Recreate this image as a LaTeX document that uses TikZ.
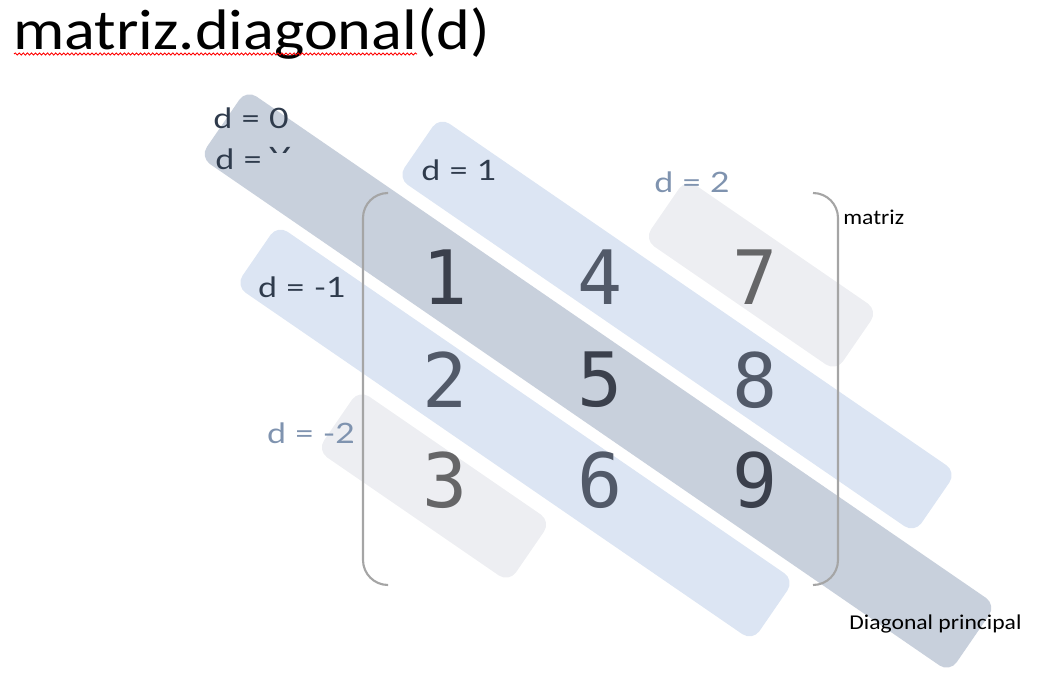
\documentclass[tikz,border=0pt]{standalone}
\usepackage{fontspec}
\setmainfont{Carlito}
\newfontfamily\lblfont[FakeStretch=1.2]{Lato}
\newfontfamily\numfont{DejaVu Sans Mono}
\newfontfamily\capfont[FakeStretch=1.12]{Carlito}
\newfontfamily\titlefont[FakeStretch=1.125]{Carlito}
\usetikzlibrary{decorations.pathmorphing}

\definecolor{bandmain}{RGB}{200,208,220}
\definecolor{bandone}{RGB}{220,229,243}
\definecolor{bandtwo}{RGB}{237,238,242}
\definecolor{numdark}{RGB}{59,64,76}
\definecolor{nummid}{RGB}{82,90,105}
\definecolor{numgray}{RGB}{102,102,104}
\definecolor{lbldark}{RGB}{47,59,76}
\definecolor{lbllight}{RGB}{127,147,175}
\definecolor{brakgray}{RGB}{165,165,165}

\tikzset{band/.style={rectangle,rounded corners=7pt,rotate=-34.5,inner sep=0pt}}
\tikzset{num/.style={font=\numfont\fontsize{42.7}{46}\selectfont,inner sep=0pt}}
\tikzset{lbl/.style={font=\lblfont\fontsize{16}{18}\selectfont,inner sep=0pt}}
\tikzset{captext/.style={font=\capfont\fontsize{12}{14}\selectfont,inner sep=0pt}}
\tikzset{brak/.style={brakgray,line width=1.2pt,rounded corners=0.5cm}}

\begin{document}
\begin{tikzpicture}[x=0.02cm,y=-0.02cm]
        \useasboundingbox (0,0) rectangle (1048,692);
        % title with the spell check line
        \node[font=\titlefont\fontsize{32.5}{36}\selectfont,inner sep=0pt,anchor=base west] (title) at (13,50) {matriz.diagonal(d)};
        \draw[red,line width=0.5pt,decorate,decoration={snake,segment length=2.3pt,amplitude=0.6pt}] (14,54) -- (417,54);

        % draw the diagonals as bands
        \node[band,fill=bandtwo,minimum width=4.66cm,minimum height=1.48cm] (diagp2) at (761,275) {};
        \node[band,fill=bandtwo,minimum width=4.66cm,minimum height=1.48cm] (diagm2) at (434,486) {};
        \node[band,fill=bandone,minimum width=12.55cm,minimum height=1.48cm] (diagp1) at (677,325) {};
        \node[band,fill=bandone,minimum width=12.55cm,minimum height=1.48cm] (diagm1) at (515,433) {};
        \node[band,fill=bandmain,minimum width=18.2cm,minimum height=1.64cm] (diag0) at (598,381) {};

        % draw the brackets
        \draw[brak] (388,193) -- (363,193) -- (363,585) -- (388,585);
        \draw[brak] (813,193) -- (838,193) -- (838,585) -- (813,585);

        % the entries, column by column
        \node[num,numdark] (m11) at (445,277) {1};
        \node[num,nummid] (m21) at (445,380) {2};
        \node[num,numgray] (m31) at (445,480) {3};
        \node[num,nummid] (m12) at (600,277) {4};
        \node[num,numdark] (m22) at (600,380) {5};
        \node[num,nummid] (m32) at (600,480) {6};
        \node[num,numgray] (m13) at (755,277) {7};
        \node[num,nummid] (m23) at (755,380) {8};
        \node[num,numdark] (m33) at (755,480) {9};

        % labels of the diagonals
        \node[lbl,lbldark] (lblz) at (251,118) {d = 0};
        \node[lbl,lbldark,anchor=base west] (lblq) at (215,170) {d =};
        \begin{scope}
            \clip (268,146) rectangle (292,153);
            \node[lbl,lbldark,anchor=north] (lblqy) at (280,147) {Y};
        \end{scope}
        \node[lbl,lbldark] (lblp1) at (459,170) {d = 1};
        \node[lbl,lbllight] (lblp2) at (692,182) {d = 2};
        \node[lbl,lbldark] (lblm1) at (302,287) {d = -1};
        \node[lbl,lbllight] (lblm2) at (311,433) {d = -2};

        \node[captext,anchor=base west] (lblmat) at (843,225) {matriz};
        \node[captext,anchor=base west] (lbldiag) at (849,629) {Diagonal principal};
    \end{tikzpicture}
\end{document}
